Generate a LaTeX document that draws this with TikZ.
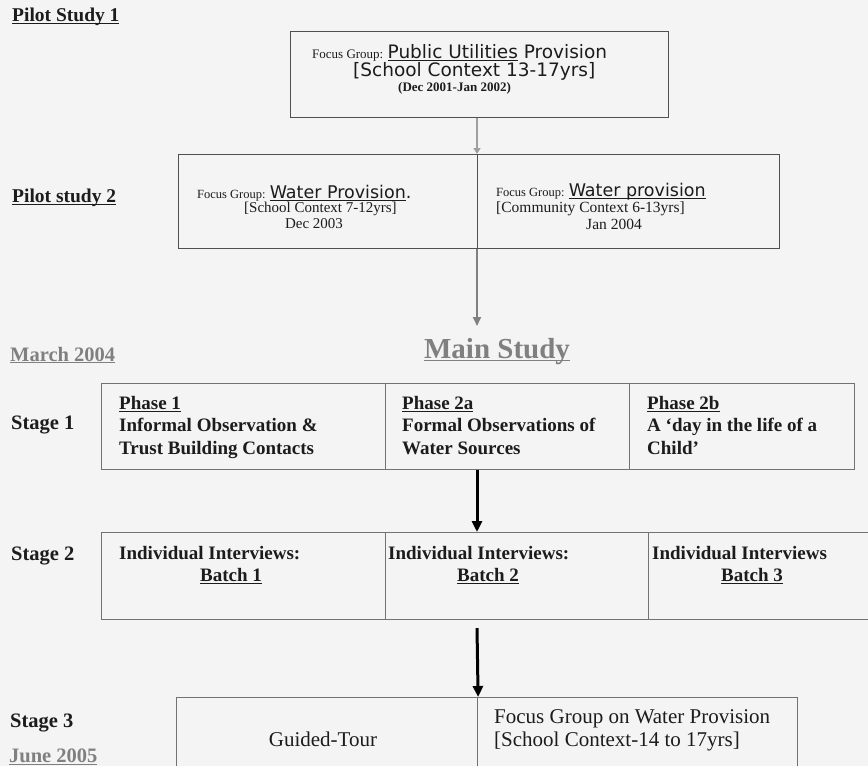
\documentclass[tikz,border=0pt]{standalone}
\usepackage{fontspec}
\setmainfont{Liberation Serif}
\newfontfamily\sansf{DejaVu Sans}
\usetikzlibrary{arrows.meta}
\definecolor{bg}{HTML}{F4F4F4}
\definecolor{linegray}{HTML}{727272}
\definecolor{boxgray}{HTML}{505050}
\definecolor{labgray}{HTML}{808080}
\definecolor{ink}{HTML}{1C1C1C}
\newcommand\ulx[1]{\underline{\smash{#1}}\vphantom{#1}}
\begin{document}
\begin{tikzpicture}[x=1pt,y=-1pt,
  cell/.style={draw=linegray, line width=1.1pt, inner sep=0pt, anchor=north west},
  pbox/.style={draw=boxgray, line width=1.3pt, inner sep=0pt, anchor=north west},
  body/.style={font=\bfseries\fontsize{19}{22.5}\selectfont, text=ink, inner sep=0pt, align=left, anchor=north west},
  bodyr/.style={font=\fontsize{21}{23}\selectfont, text=ink, inner sep=0pt, align=left},
  side/.style={font=\bfseries\fontsize{20.5}{23}\selectfont, text=ink, inner sep=0pt, anchor=west},
  datelab/.style={font=\bfseries\fontsize{20.5}{23}\selectfont, text=labgray, inner sep=0pt, anchor=west},
  pilot/.style={font=\bfseries\fontsize{19.5}{22}\selectfont, text=ink, inner sep=0pt, anchor=west},
  txt/.style={inner sep=0pt, text=ink},
  arrowblack/.style={draw=black, line width=3pt, -{Triangle[length=11pt,width=10pt]}},
  arrowgray/.style={draw=labgray, line width=2pt, -{Triangle[length=9pt,width=8pt]}},
  arrowfaint/.style={draw=gray!75, line width=2.5pt, -{Triangle[length=6pt,width=7pt]}}
]
\fill[bg] (0,0) rectangle (868,766);
\useasboundingbox (0,0) rectangle (868,766);
\coordinate (axis) at (477,0);

% Pilot study 1
\node[pilot] (ps1) at (12,17) {\ulx{Pilot Study 1}};
\node[pbox, minimum width=378pt, minimum height=86pt] (b1) at (290,31) {};
\node[txt, anchor=west] (b1l1) at (312,53) {\fontsize{13}{15}\selectfont Focus Group: {\sansf\fontsize{18.5}{20}\selectfont\ulx{Public Utilities} Provision}};
\node[txt, anchor=west] (b1l2) at (353,71) {\sansf\fontsize{18.5}{20}\selectfont [School Context 13-17yrs]};
\node[txt, anchor=west] (b1l3) at (398,88) {\bfseries\fontsize{13}{15}\selectfont (Dec 2001-Jan 2002)};

% Pilot study 2
\node[pilot] (ps2) at (12,198) {\ulx{Pilot study 2}};
\node[pbox, minimum width=299pt, minimum height=94pt] (b2a) at (178,154) {};
\node[pbox, minimum width=302pt, minimum height=94pt] (b2b) at (477,154) {};
\node[txt, anchor=west] (b2al1) at (197,193) {\fontsize{12.5}{15}\selectfont Focus Group: {\sansf\fontsize{17.5}{19}\selectfont\ulx{Water Provision}.}};
\node[txt, anchor=west] (b2al2) at (244,209) {\fontsize{15}{17}\selectfont [School Context 7-12yrs]};
\node[txt] (b2al3) at (314,224) {\fontsize{15}{17}\selectfont Dec 2003};
\node[txt, anchor=west] (b2bl1) at (496,192) {\fontsize{12.5}{15}\selectfont Focus Group: {\sansf\fontsize{17.5}{19}\selectfont\ulx{Water provision}}};
\node[txt, anchor=west] (b2bl2) at (496,209) {\fontsize{15.5}{17}\selectfont [Community Context 6-13yrs]};
\node[txt] (b2bl3) at (614,224) {\fontsize{15.5}{17}\selectfont Jan 2004};

% arrows upper
\draw[arrowfaint] (b1.south -| axis) -- (b2b.north west);
\coordinate (a2end) at (477,326);
\draw[arrowgray] (b2b.south west) -- (a2end);

% Main study
\node[datelab] (mar) at (10,355) {\ulx{March 2004}};
\node[font=\bfseries\fontsize{29}{31}\selectfont, text=labgray, inner sep=0pt] (main) at (497,352) {\ulx{Main Study}};

% Stage 1
\node[side] (s1) at (11,425) {Stage 1};
\node[cell, minimum width=284pt, minimum height=86pt] (t1a) at (101,383) {};
\node[cell, minimum width=244pt, minimum height=86pt] (t1b) at (385,383) {};
\node[cell, minimum width=225pt, minimum height=86pt] (t1c) at (629,383) {};
\node[body] (t1at) at (119,396) {\ulx{Phase 1}\\Informal Observation \&\\Trust Building Contacts};
\node[body] (t1bt) at (402,396) {\ulx{Phase 2a}\\Formal Observations of\\Water Sources};
\node[body] (t1ct) at (647,396) {\ulx{Phase 2b}\\A ‘day in the life of a\\Child’};

% Stage 2
\node[side] (s2) at (11,556) {Stage 2};
\node[cell, minimum width=284pt, minimum height=87pt] (t2a) at (101,532) {};
\node[cell, minimum width=263pt, minimum height=87pt] (t2b) at (385,532) {};
\node[cell, minimum width=230pt, minimum height=87pt] (t2c) at (648,532) {};
\node[body] (t2at) at (119,546) {Individual Interviews:\\\hspace*{81pt}\ulx{Batch 1}};
\node[body] (t2bt) at (388,546) {Individual Interviews:\\\hspace*{69pt}\ulx{Batch 2}};
\node[body] (t2ct) at (652,546) {Individual Interviews\\\hspace*{69pt}\ulx{Batch 3}};

% Stage 3
\node[side] (s3) at (10,723) {Stage 3};
\node[datelab] (jun) at (9,757) {\ulx{June 2005}};
\node[cell, minimum width=301pt, minimum height=75pt] (t3a) at (176,697) {};
\node[cell, minimum width=320pt, minimum height=75pt] (t3b) at (477,697) {};
\node[bodyr] (t3at) at (323,739) {Guided-Tour};
\node[bodyr, anchor=north west] (t3bt) at (494,709) {Focus Group on Water Provision\\{[School Context-14 to 17yrs]}};

% black arrows
\draw[arrowblack] (t1b.south -| axis) -- (t2b.north -| axis);
\draw[arrowblack] ([yshift=-8pt]t2b.south -| axis) -- (t3a.north east);
\end{tikzpicture}
\end{document}
